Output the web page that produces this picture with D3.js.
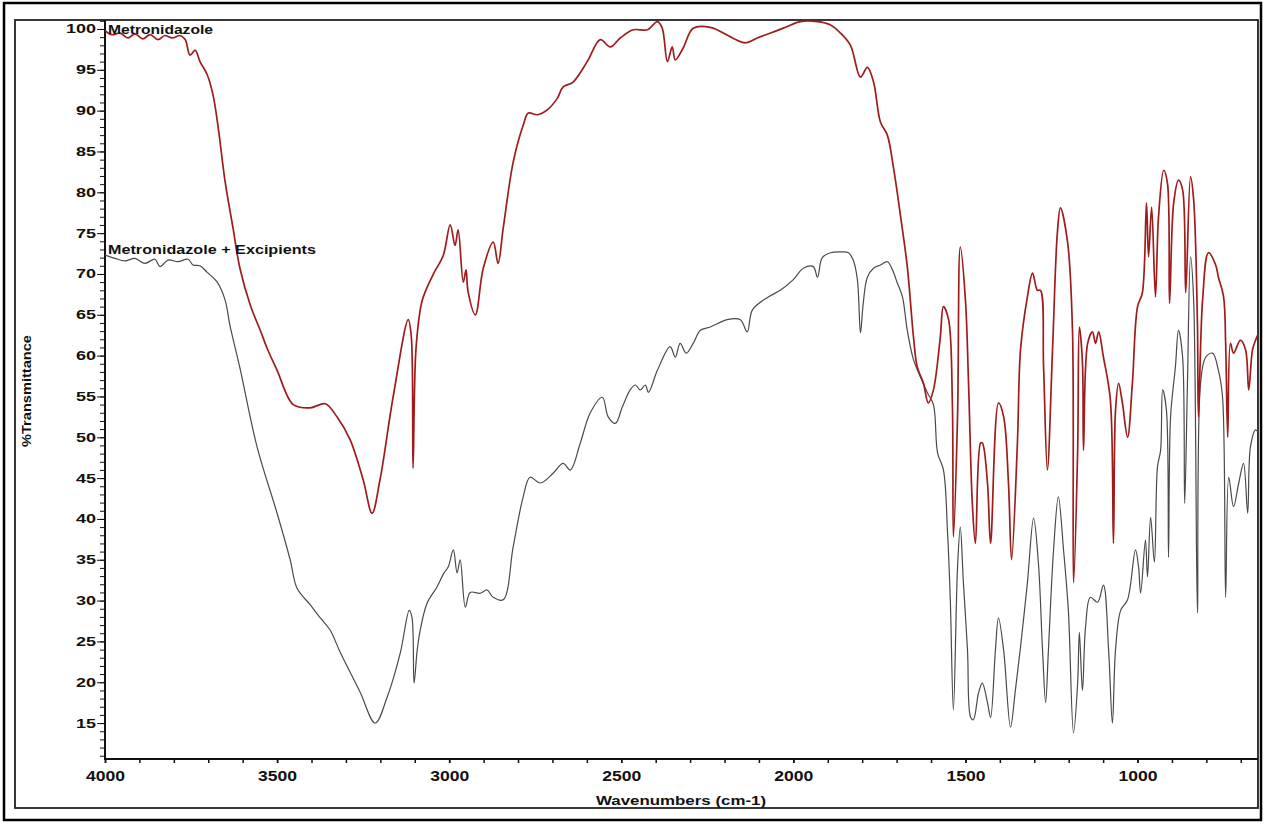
<!DOCTYPE html>
<html>
<head>
<meta charset="utf-8">
<script src="https://cdn.jsdelivr.net/npm/d3@7"></script>
<style>
  html, body { margin: 0; padding: 0; background: #fff; }
  svg { display: block; }
  text { font-family: "Liberation Sans", Arial, sans-serif; font-weight: bold; fill: #111; }
</style>
</head>
<body>
<svg id="chart" width="1265" height="824"></svg>
<script>
// FTIR spectra: [wavenumber (cm-1), %Transmittance]
const metronidazole = [
  [4000,99.8],[3980,99.3],[3956,99.5],[3933,98.9],[3913,99.4],[3890,98.8],[3869,99.3],[3846,98.7],
  [3826,99.2],[3805,98.9],[3782,99.2],[3767,98.7],[3753,96.8],[3738,97.4],[3724,96.0],[3703,94.4],
  [3686,91.9],[3671,87.9],[3651,81.3],[3628,75.6],[3608,70.7],[3578,66.2],[3549,63.1],[3529,60.9],
  [3500,58.2],[3453,54.0],[3404,53.6],[3360,54.1],[3326,52.5],[3288,49.7],[3250,44.8],[3224,40.7],
  [3201,44.8],[3163,54.9],[3119,64.4],[3110,62.3],[3105,46.2],[3096,61.1],[3078,66.8],[3047,69.9],
  [3017,72.3],[2997,76.0],[2983,73.5],[2974,75.4],[2959,69.0],[2951,70.5],[2945,67.8],[2924,65.0],
  [2901,70.7],[2872,73.9],[2858,71.3],[2843,75.6],[2814,83.7],[2785,88.2],[2770,89.7],[2744,89.5],
  [2715,90.1],[2686,91.5],[2669,92.9],[2640,93.5],[2599,96.0],[2561,98.7],[2532,97.8],[2503,98.9],
  [2465,99.9],[2424,99.9],[2395,100.9],[2381,100.1],[2366,96.0],[2352,97.8],[2343,96.2],[2320,97.7],
  [2291,100.1],[2241,100.2],[2140,98.3],[2105,98.9],[2029,100.1],[1980,100.9],[1930,100.9],[1892,100.5],
  [1863,99.5],[1834,98.0],[1805,94.1],[1785,95.3],[1767,93.5],[1747,88.6],[1727,87.0],[1709,83.0],
  [1689,77.2],[1669,70.9],[1651,62.3],[1640,58.6],[1622,56.6],[1608,54.2],[1593,55.8],[1573,62.3],
  [1564,66.0],[1549,64.4],[1538,54.2],[1535,37.8],[1523,52.5],[1515,73.3],[1500,66.8],[1491,56.6],
  [1480,41.9],[1471,37.0],[1456,49.3],[1451,49.3],[1436,44.4],[1427,37.0],[1404,54.2],[1389,52.5],
  [1375,44.4],[1366,35.0],[1349,49.3],[1340,60.7],[1320,67.2],[1305,70.1],[1291,68.0],[1282,68.0],
  [1273,58.6],[1262,46.0],[1247,60.7],[1233,75.0],[1224,78.1],[1203,73.8],[1189,63.1],[1186,32.2],
  [1174,48.4],[1169,63.5],[1160,59.1],[1157,48.4],[1145,61.5],[1131,62.9],[1122,61.5],[1113,62.9],
  [1099,59.8],[1079,54.6],[1070,37.0],[1064,53.3],[1055,56.6],[1044,54.2],[1029,50.0],[1015,56.6],
  [1000,66.0],[986,67.7],[974,78.7],[968,72.1],[959,78.2],[948,67.2],[939,77.0],[924,82.7],
  [913,81.1],[907,66.4],[895,78.7],[881,81.5],[869,80.3],[860,67.7],[846,81.9],[837,79.1],
  [826,64.0],[823,52.5],[811,66.8],[794,72.6],[773,71.1],[765,69.6],[750,67.2],[744,61.5],
  [738,50.0],[730,61.5],[721,60.3],[701,61.9],[686,60.7],[677,55.8],[666,60.7],[657,61.9],[648,62.8]
];

const withExcipients = [
  [4000,72.3],[3971,71.9],[3942,71.6],[3913,71.9],[3884,71.3],[3855,71.8],[3840,70.9],[3817,71.7],
  [3788,71.5],[3759,71.8],[3744,71.1],[3724,71.0],[3703,70.2],[3674,69.0],[3651,66.8],[3637,63.7],
  [3608,58.5],[3558,48.8],[3500,40.7],[3462,35.0],[3442,31.5],[3404,29.5],[3375,27.9],[3346,26.4],
  [3317,23.7],[3259,18.8],[3215,15.0],[3180,18.2],[3142,23.6],[3116,28.8],[3108,27.9],[3102,19.9],
  [3093,23.9],[3084,26.4],[3064,29.7],[3035,31.7],[3015,33.4],[3003,34.1],[2988,36.2],[2977,33.4],
  [2968,35.0],[2953,29.2],[2939,31.0],[2910,30.9],[2890,31.3],[2872,30.4],[2843,30.1],[2814,36.6],
  [2785,42.7],[2765,45.1],[2735,44.4],[2698,45.6],[2669,46.8],[2648,46.0],[2619,49.3],[2590,53.0],
  [2555,54.9],[2538,52.5],[2517,51.7],[2497,53.7],[2474,55.8],[2459,56.4],[2445,55.8],[2430,56.4],
  [2421,55.5],[2395,58.2],[2358,61.1],[2343,59.8],[2329,61.5],[2311,60.3],[2291,61.5],[2270,63.1],
  [2241,63.5],[2192,64.4],[2154,64.4],[2134,62.9],[2119,65.6],[2076,67.1],[2038,68.0],[2000,69.3],
  [1971,70.7],[1942,70.9],[1930,69.6],[1916,72.0],[1892,72.6],[1863,72.7],[1840,72.6],[1826,71.7],
  [1814,69.3],[1805,62.8],[1797,66.4],[1785,69.6],[1767,70.7],[1747,71.1],[1727,71.5],[1712,70.5],
  [1698,68.9],[1683,67.2],[1669,63.1],[1651,59.5],[1631,57.4],[1610,55.4],[1593,54.0],[1581,48.1],
  [1564,46.0],[1552,38.3],[1544,30.1],[1535,16.6],[1523,34.1],[1515,39.0],[1506,32.2],[1494,23.9],
  [1485,15.7],[1477,15.4],[1462,18.7],[1451,19.9],[1436,17.5],[1427,15.7],[1413,23.9],[1404,27.9],
  [1389,23.9],[1369,14.5],[1355,19.0],[1340,24.3],[1320,32.2],[1302,40.1],[1288,34.6],[1276,23.9],
  [1267,17.5],[1259,23.9],[1244,36.2],[1230,42.7],[1215,36.2],[1201,28.8],[1186,13.8],[1174,19.9],
  [1169,26.1],[1160,19.0],[1151,26.8],[1137,30.4],[1116,29.8],[1099,31.9],[1084,23.9],[1073,15.0],
  [1064,23.9],[1049,28.8],[1029,30.1],[1006,36.2],[997,34.1],[991,30.9],[977,37.4],[971,32.9],
  [962,40.2],[951,34.7],[942,46.4],[933,48.4],[927,55.8],[916,53.3],[910,35.3],[904,52.5],
  [890,58.6],[881,63.1],[869,59.8],[863,41.9],[855,56.6],[846,72.1],[837,66.8],[826,28.5],
  [817,56.6],[802,59.8],[782,60.3],[765,58.2],[753,54.9],[744,30.4],[735,45.1],[721,41.5],
  [706,44.4],[692,46.8],[680,40.7],[672,48.8],[657,50.9],[648,50.5]
];

const xMajorTicks = [4000, 3500, 3000, 2500, 2000, 1500, 1000];
const xMinorTicks = d3.range(4000, 649, -100);
const yMajorTicks = d3.range(15, 101, 5);
const yMinorTicks = d3.range(11, 102, 1);

const svg = d3.select("#chart");

// page frames
svg.append("rect").attr("x", 4).attr("y", 3).attr("width", 1257).attr("height", 817)
  .attr("fill", "none").attr("stroke", "#000").attr("stroke-width", 2.5);
svg.append("rect").attr("x", 15).attr("y", 20).attr("width", 1243).attr("height", 788)
  .attr("fill", "none").attr("stroke", "#222").attr("stroke-width", 1.8);

const plotLeft = 105, plotRight = 1258, plotTop = 20, plotBottom = 759;

const x = d3.scaleLinear().domain([4000, 650]).range([plotLeft, plotRight]);
const y = d3.scaleLinear().domain([10.6, 101.1]).range([plotBottom, plotTop]);

svg.append("defs").append("clipPath").attr("id", "plot")
  .append("rect").attr("x", plotLeft).attr("y", plotTop)
  .attr("width", plotRight - plotLeft).attr("height", plotBottom - plotTop);

// y axis
const yMinor = svg.append("g").attr("transform", `translate(${plotLeft},0)`)
  .call(d3.axisLeft(y).tickValues(yMinorTicks).tickSize(5).tickFormat(""));
const yMajor = svg.append("g").attr("transform", `translate(${plotLeft},0)`)
  .call(d3.axisLeft(y).tickValues(yMajorTicks).tickSize(8).tickPadding(1).tickFormat(d3.format("d")));
[yMinor, yMajor].forEach(g => {
  g.select(".domain").remove();
  g.selectAll(".tick line").attr("stroke", "#111").attr("stroke-width", 1);
});
yMajor.selectAll(".tick text")
  .attr("font-size", 12.5).attr("fill", "#111")
  .attr("textLength", d => String(d).length * 10)
  .attr("lengthAdjust", "spacingAndGlyphs");

// x axis
const xMinor = svg.append("g").attr("transform", `translate(0,${plotBottom})`)
  .call(d3.axisBottom(x).tickValues(xMinorTicks).tickSize(4).tickFormat(""));
const xMajor = svg.append("g").attr("transform", `translate(0,${plotBottom})`)
  .call(d3.axisBottom(x).tickValues(xMajorTicks).tickSize(4).tickPadding(8).tickFormat(d3.format("d")));
[xMinor, xMajor].forEach(g => {
  g.select(".domain").remove();
  g.selectAll(".tick line").attr("stroke", "#111").attr("stroke-width", 1.5);
});
xMajor.selectAll(".tick text")
  .attr("font-size", 14).attr("fill", "#111")
  .attr("textLength", 39).attr("lengthAdjust", "spacingAndGlyphs");

// axis lines
svg.append("line").attr("x1", plotLeft).attr("x2", plotLeft).attr("y1", plotTop).attr("y2", plotBottom + 1)
  .attr("stroke", "#111").attr("stroke-width", 2);
svg.append("line").attr("x1", plotLeft - 1).attr("x2", plotRight).attr("y1", plotBottom).attr("y2", plotBottom)
  .attr("stroke", "#111").attr("stroke-width", 2.2);

// spectra, drawn as smooth traces through the sampled points
const line = d3.line().x(d => x(d[0])).y(d => y(d[1])).curve(d3.curveCatmullRom.alpha(0.5));
const plot = svg.append("g").attr("clip-path", "url(#plot)");
plot.append("path").datum(withExcipients).attr("d", line)
  .attr("fill", "none").attr("stroke", "#4a4a4a").attr("stroke-width", 1.2)
  .attr("stroke-linejoin", "round");
plot.append("path").datum(metronidazole).attr("d", line)
  .attr("fill", "none").attr("stroke", "#a01c1c").attr("stroke-width", 1.7)
  .attr("stroke-linejoin", "round");

// series labels
svg.append("text").attr("x", 108).attr("y", 34).attr("font-size", 13)
  .attr("textLength", 105).attr("lengthAdjust", "spacingAndGlyphs")
  .text("Metronidazole");
svg.append("text").attr("x", 108).attr("y", 254).attr("font-size", 13)
  .attr("textLength", 208).attr("lengthAdjust", "spacingAndGlyphs")
  .text("Metronidazole + Excipients");

// axis titles
svg.append("text").attr("transform", "translate(31,391) rotate(-90)")
  .attr("text-anchor", "middle").attr("font-size", 12)
  .attr("textLength", 112).attr("lengthAdjust", "spacingAndGlyphs")
  .text("%Transmittance");
svg.append("text").attr("x", 681).attr("y", 805)
  .attr("text-anchor", "middle").attr("font-size", 13)
  .attr("textLength", 170).attr("lengthAdjust", "spacingAndGlyphs")
  .text("Wavenumbers (cm-1)");
</script>
</body>
</html>
